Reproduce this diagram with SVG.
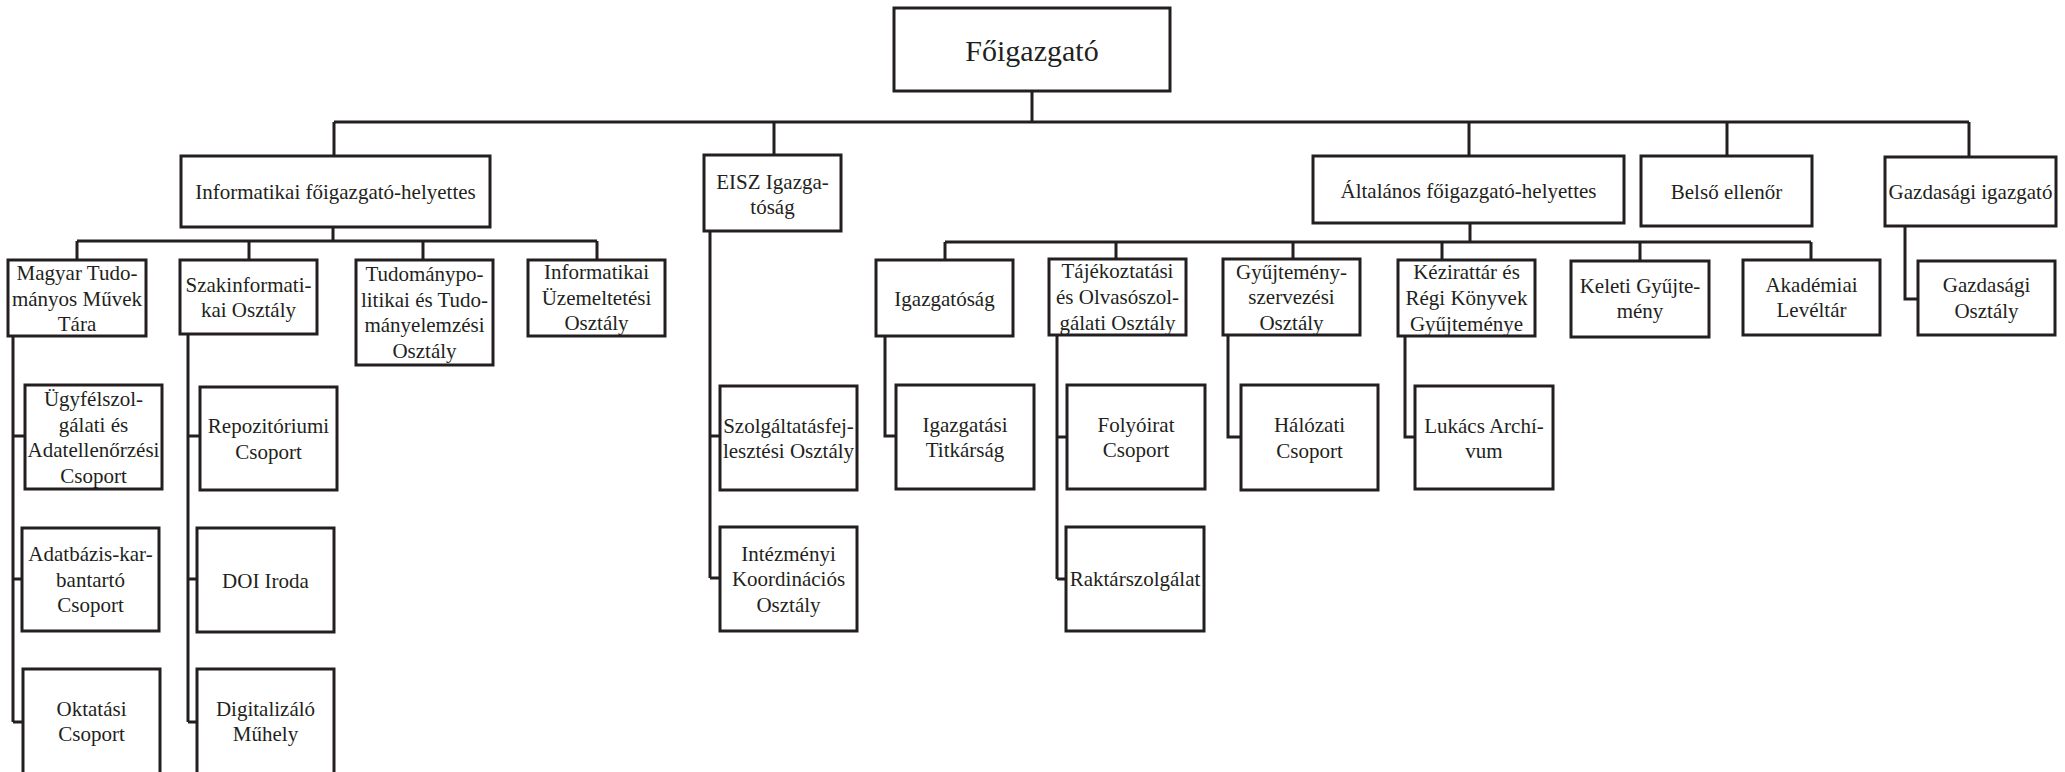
<svg xmlns="http://www.w3.org/2000/svg" width="2065" height="772" viewBox="0 0 2065 772">
<style>
.box{fill:#fff;stroke:#231f20;stroke-width:3}
.ln{fill:none;stroke:#231f20;stroke-width:3}
text{font-family:"Liberation Serif","Times New Roman",serif;font-size:21px;fill:#231f20;text-anchor:middle}
.big{font-size:30px}
</style>
<rect width="2065" height="772" fill="#fff"/>
<g id="connectors" class="ln">
<path d="M1032,91V122M334,122H1969M334,122V156M774,122V155M1469,122V156M1727,122V156M1969,122V157"/>
<path d="M333,227V241M77,241H597M77,241V260M249,241V260M423,241V260M597,241V260"/>
<path d="M13,336V722M13,436H25M13,579H22M13,722H23"/>
<path d="M188,334V722M188,436H200M188,579H197M188,722H197"/>
<path d="M710,231V578M710,436H720M710,578H720"/>
<path d="M1470,223V242M945,242H1811M945,242V260M1116,242V259M1293,242V259M1442,242V260M1640,242V261M1811,242V260"/>
<path d="M885,336V436H896"/>
<path d="M1057,335V579M1057,437H1067M1057,579H1066"/>
<path d="M1228,335V437H1241"/>
<path d="M1405,336V437H1415"/>
<path d="M1905,226V299H1918"/>
</g>
<g id="foigazgato"><rect class="box" x="894" y="8" width="276" height="83"/><text class="big" x="1032" y="61">Főigazgató</text></g>
<g id="informatikai-fh"><rect class="box" x="181" y="156" width="309" height="71"/><text x="335.5" y="199">Informatikai főigazgató-helyettes</text></g>
<g id="eisz"><rect class="box" x="704" y="155" width="137" height="76"/><text x="772.5" y="188.5">EISZ Igazga-</text><text x="772.5" y="214">tóság</text></g>
<g id="altalanos-fh"><rect class="box" x="1313" y="156" width="311" height="67"/><text x="1468.5" y="197.5">Általános főigazgató-helyettes</text></g>
<g id="belso-ellenor"><rect class="box" x="1641" y="156" width="171" height="70"/><text x="1726.5" y="198.5">Belső ellenőr</text></g>
<g id="gazdasagi-igazgato"><rect class="box" x="1885" y="157" width="171" height="69"/><text x="1970.5" y="199">Gazdasági igazgató</text></g>
<g id="mtmt"><rect class="box" x="8" y="260" width="138" height="76"/><text x="77" y="280">Magyar Tudo-</text><text x="77" y="305.5">mányos Művek</text><text x="77" y="331">Tára</text></g>
<g id="szakinformatikai"><rect class="box" x="180" y="260" width="137" height="74"/><text x="248.5" y="291.7">Szakinformati-</text><text x="248.5" y="317.2">kai Osztály</text></g>
<g id="tudomanypolitikai"><rect class="box" x="356" y="260" width="137" height="105"/><text x="424.5" y="281">Tudománypo-</text><text x="424.5" y="306.5">litikai és Tudo-</text><text x="424.5" y="332">mányelemzési</text><text x="424.5" y="357.5">Osztály</text></g>
<g id="informatikai-uzemeltetesi"><rect class="box" x="528" y="260" width="137" height="76"/><text x="596.5" y="279">Informatikai</text><text x="596.5" y="304.5">Üzemeltetési</text><text x="596.5" y="330">Osztály</text></g>
<g id="ugyfelszolgalati"><rect class="box" x="25" y="385" width="137" height="104"/><text x="93.5" y="406">Ügyfélszol-</text><text x="93.5" y="431.5">gálati és</text><text x="93.5" y="457">Adatellenőrzési</text><text x="93.5" y="482.5">Csoport</text></g>
<g id="adatbazis"><rect class="box" x="22" y="528" width="137" height="103"/><text x="90.5" y="561.4">Adatbázis-kar-</text><text x="90.5" y="586.9">bantartó</text><text x="90.5" y="612.4">Csoport</text></g>
<g id="oktatasi"><rect class="box" x="23" y="669" width="137" height="115"/><text x="91.5" y="715.5">Oktatási</text><text x="91.5" y="741">Csoport</text></g>
<g id="repozitoriumi"><rect class="box" x="200" y="387" width="137" height="103"/><text x="268.5" y="433.2">Repozitóriumi</text><text x="268.5" y="458.7">Csoport</text></g>
<g id="doi"><rect class="box" x="197" y="528" width="137" height="104"/><text x="265.5" y="587.5">DOI Iroda</text></g>
<g id="digitalizalo"><rect class="box" x="197" y="669" width="137" height="115"/><text x="265.5" y="715.5">Digitalizáló</text><text x="265.5" y="741">Műhely</text></g>
<g id="szolgaltatasfejlesztesi"><rect class="box" x="720" y="386" width="137" height="104"/><text x="788.5" y="432.7">Szolgáltatásfej-</text><text x="788.5" y="458.2">lesztési Osztály</text></g>
<g id="intezmenyi"><rect class="box" x="720" y="527" width="137" height="104"/><text x="788.5" y="560.9">Intézményi</text><text x="788.5" y="586.4">Koordinációs</text><text x="788.5" y="611.9">Osztály</text></g>
<g id="igazgatosag"><rect class="box" x="876" y="260" width="137" height="76"/><text x="944.5" y="305.5">Igazgatóság</text></g>
<g id="igazgatasi-titkarsag"><rect class="box" x="896" y="385" width="138" height="104"/><text x="965" y="431.7">Igazgatási</text><text x="965" y="457.2">Titkárság</text></g>
<g id="tajekoztatasi"><rect class="box" x="1049" y="259" width="137" height="76"/><text x="1117.5" y="278">Tájékoztatási</text><text x="1117.5" y="304.4">és Olvasószol-</text><text x="1117.5" y="330">gálati Osztály</text></g>
<g id="folyoirat"><rect class="box" x="1067" y="385" width="138" height="104"/><text x="1136" y="431.7">Folyóirat</text><text x="1136" y="457.2">Csoport</text></g>
<g id="raktarszolgalat"><rect class="box" x="1066" y="527" width="138" height="104"/><text x="1135" y="586.4">Raktárszolgálat</text></g>
<g id="gyujtemenyszervezesi"><rect class="box" x="1223" y="259" width="137" height="76"/><text x="1291.5" y="278.5">Gyűjtemény-</text><text x="1291.5" y="304.4">szervezési</text><text x="1291.5" y="330">Osztály</text></g>
<g id="halozati"><rect class="box" x="1241" y="385" width="137" height="105"/><text x="1309.5" y="432.2">Hálózati</text><text x="1309.5" y="457.7">Csoport</text></g>
<g id="kezirattar"><rect class="box" x="1398" y="260" width="137" height="76"/><text x="1466.5" y="279">Kézirattár és</text><text x="1466.5" y="305">Régi Könyvek</text><text x="1466.5" y="330.5">Gyűjteménye</text></g>
<g id="keleti"><rect class="box" x="1571" y="261" width="138" height="76"/><text x="1640" y="292.5">Keleti Gyűjte-</text><text x="1640" y="318">mény</text></g>
<g id="akademiai-leveltar"><rect class="box" x="1743" y="260" width="137" height="75"/><text x="1811.5" y="291.5">Akadémiai</text><text x="1811.5" y="317">Levéltár</text></g>
<g id="lukacs"><rect class="box" x="1415" y="386" width="138" height="103"/><text x="1484" y="432.7">Lukács Archí-</text><text x="1484" y="458">vum</text></g>
<g id="gazdasagi-osztaly"><rect class="box" x="1918" y="261" width="137" height="74"/><text x="1986.5" y="292">Gazdasági</text><text x="1986.5" y="318">Osztály</text></g>
</svg>
